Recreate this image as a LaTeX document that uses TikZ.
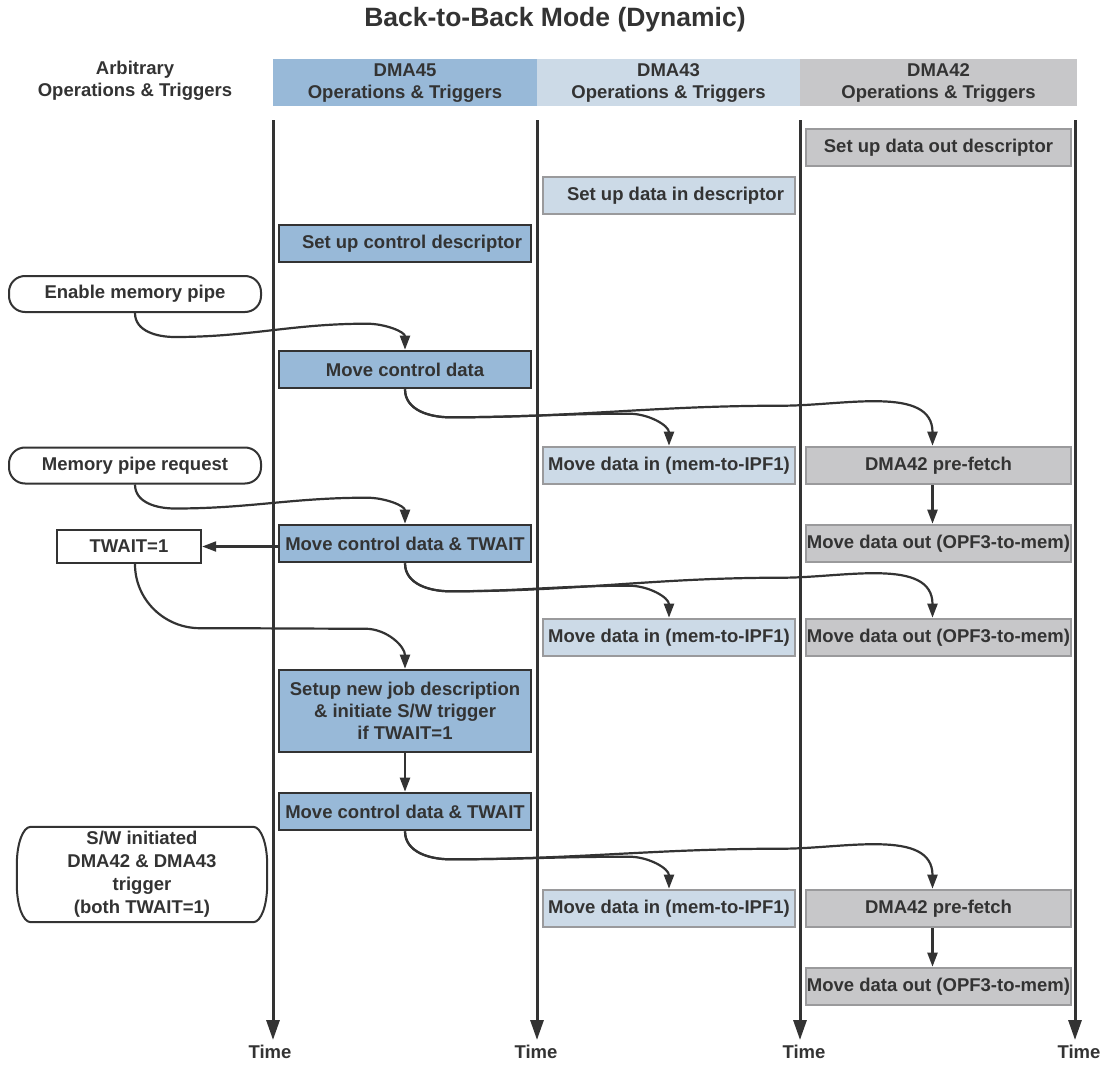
\documentclass[tikz,border=0pt]{standalone}
\usepackage{fontspec}
\setmainfont{Liberation Sans}
\usetikzlibrary{arrows.meta,calc}
\definecolor{txt}{HTML}{333333}
\definecolor{lanec}{HTML}{333333}
\definecolor{cA}{HTML}{98B9D8}
\definecolor{cB}{HTML}{CCDAE7}
\definecolor{cC}{HTML}{C7C7C9}
\definecolor{bdg}{HTML}{9A9A9C}
\tikzset{
  base/.style={font=\bfseries\fontsize{18.5}{22}\selectfont, text=txt, inner sep=0pt, align=center},
  ttl/.style={font=\bfseries\fontsize{26.5}{30}\selectfont, text=txt, inner sep=0pt},
  hdr/.style={base, minimum height=47pt},
  boxA/.style={base, draw=lanec, fill=cA, line width=2.6pt, minimum width=252pt, minimum height=37pt},
  boxB/.style={base, draw=bdg, fill=cB, line width=2.6pt, minimum width=252pt, minimum height=37pt},
  boxC/.style={base, draw=bdg, fill=cC, line width=2.6pt, minimum width=265pt, minimum height=37pt},
  pill/.style={base, draw=lanec, fill=white, line width=2pt, rounded corners=16pt, minimum width=252pt, minimum height=36pt},
  plainbox/.style={base, draw=lanec, fill=white, line width=2.4pt, minimum width=144pt, minimum height=33pt},
  laneline/.style={draw=lanec, line width=3pt, -{Triangle[length=20pt,width=13pt]}},
  conn/.style={draw=lanec, line width=2.2pt, -{Triangle[length=14pt,width=10pt]}},
  swline/.style={draw=lanec, line width=2pt}
}
\begin{document}
\begin{tikzpicture}[x=1pt,y=1pt]
\useasboundingbox (0,0) rectangle (1104,-1065);
\fill[white] (0,0) rectangle (1104,-1065);

% title
\node[ttl] (title) at (555,-20) {Back-to-Back Mode (Dynamic)};

% headers
\node[hdr] (h0) at (135,-81) {Arbitrary\\Operations \& Triggers};
\node[hdr, fill=cA, minimum width=264pt] (h45) at (405,-83) {DMA45\\Operations \& Triggers};
\node[hdr, fill=cB, minimum width=263pt] (h43) at (668.5,-83) {DMA43\\Operations \& Triggers};
\node[hdr, fill=cC, minimum width=277pt] (h42) at (938.5,-83) {DMA42\\Operations \& Triggers};

% lanes
\coordinate (l1t) at (273,-120); \coordinate (l1b) at (273,-1040);
\coordinate (l2t) at (537,-120); \coordinate (l2b) at (537,-1040);
\coordinate (l3t) at (800,-120); \coordinate (l3b) at (800,-1040);
\coordinate (l4t) at (1075,-120); \coordinate (l4b) at (1075,-1040);
\draw[laneline] (l1t) -- (l1b);
\draw[laneline] (l2t) -- (l2b);
\draw[laneline] (l3t) -- (l3b);
\draw[laneline] (l4t) -- (l4b);
\node[base] (t1) at (270,-1052) {Time};
\node[base] (t2) at (536,-1052) {Time};
\node[base] (t3) at (804,-1052) {Time};
\node[base] (t4) at (1079,-1052) {Time};

% boxes
\node[boxC] (s42) at (938.5,-147.5) {Set up data out descriptor};
\node[boxB] (s43) at (669,-195.5) {\hspace*{13pt}Set up data in descriptor};
\node[boxA] (s45) at (405,-243.5) {\hspace*{14pt}Set up control descriptor};
\node[pill] (ena) at (135,-294) {Enable memory pipe};
\node[boxA] (mcd) at (405,-369.5) {Move control data};
\node[pill] (mpr) at (135,-465.5) {Memory pipe request};
\node[boxB] (mdi1) at (669,-465.5) {Move data in (mem-to-IPF1)};
\node[boxC] (pf1) at (938.5,-465.5) {DMA42 pre-fetch};
\node[boxA] (mct1) at (405,-543.5) {Move control data \& TWAIT};
\node[plainbox] (tw) at (129,-546.5) {TWAIT=1};
\node[boxC] (mdo1) at (938.5,-543.5) {Move data out (OPF3-to-mem)};
\node[boxB] (mdi2) at (669,-637.5) {Move data in (mem-to-IPF1)};
\node[boxC] (mdo2) at (938.5,-637.5) {Move data out (OPF3-to-mem)};
\node[boxA, minimum height=82pt] (snj) at (405,-711) {Setup new job description\\\& initiate S/W trigger\\if TWAIT=1};
\node[boxA] (mct2) at (405,-811.5) {Move control data \& TWAIT};
\node[base, minimum width=250pt, minimum height=95pt, font=\bfseries\fontsize{18.5}{23}\selectfont] (sw) at (142,-874.5) {S/W initiated\\DMA42 \& DMA43\\trigger\\(both TWAIT=1)};
\node[boxB] (mdi3) at (669,-908.5) {Move data in (mem-to-IPF1)};
\node[boxC] (pf2) at (938.5,-908.5) {DMA42 pre-fetch};
\node[boxC] (mdo3) at (938.5,-986.5) {Move data out (OPF3-to-mem)};

% S/W initiated outline
\draw[swline] ($(sw.north west)+(14,0)$) -- ($(sw.north east)+(-14,0)$)
  .. controls ($(sw.north east)+(-6,0)$) and ($(sw.north east)+(0,-17)$) .. ($(sw.north east)+(0,-38)$)
  -- ($(sw.south east)+(0,38)$)
  .. controls ($(sw.south east)+(0,17)$) and ($(sw.south east)+(-6,0)$) .. ($(sw.south east)+(-14,0)$)
  -- ($(sw.south west)+(14,0)$)
  .. controls ($(sw.south west)+(6,0)$) and ($(sw.south west)+(0,17)$) .. ($(sw.south west)+(0,38)$)
  -- ($(sw.north west)+(0,-38)$)
  .. controls ($(sw.north west)+(0,-17)$) and ($(sw.north west)+(6,0)$) .. ($(sw.north west)+(14,0)$) -- cycle;

% connectors from left column
\draw[conn] (ena.south) to[out=-90,in=180] ($(ena.south)+(40,-24)$) to[out=0,in=180] ($(mcd.north)+(-38,26)$) to[out=0,in=90] (mcd.north);
\draw[conn] (mpr.south) to[out=-90,in=180] ($(mpr.south)+(40,-24)$) to[out=0,in=180] ($(mct1.north)+(-38,26)$) to[out=0,in=90] (mct1.north);
\draw[conn] (mct1.west |- tw.east) -- (tw.east);
\draw[conn] ([xshift=6pt]tw.south) to[out=-90,in=180] ($([xshift=6pt]tw.south)+(65,-64)$) to[out=0,in=180] ($(snj.north)+(-40,40)$) to[out=0,in=90] (snj.north);
\draw[conn] (snj.south) -- (mct2.north);

% fan-out groups
\draw[conn] (mcd.south) to[out=-90,in=180] ($(mcd.south)+(45,-28)$) to[out=0,in=180] ($(mdi1.north)+(-40,32)$) to[out=0,in=90] (mdi1.north);
\draw[conn] (mcd.south) to[out=-90,in=180] ($(mcd.south)+(45,-28)$) to[out=0,in=180] ($([xshift=-6pt]pf1.north)+(-150,40)$) to[out=0,in=90] ([xshift=-6pt]pf1.north);
\draw[conn] (mct1.south) to[out=-90,in=180] ($(mct1.south)+(45,-28)$) to[out=0,in=180] ($(mdi2.north)+(-40,32)$) to[out=0,in=90] (mdi2.north);
\draw[conn] (mct1.south) to[out=-90,in=180] ($(mct1.south)+(45,-28)$) to[out=0,in=180] ($([xshift=-6pt]mdo2.north)+(-150,40)$) to[out=0,in=90] ([xshift=-6pt]mdo2.north);
\draw[conn] (mct2.south) to[out=-90,in=180] ($(mct2.south)+(45,-28)$) to[out=0,in=180] ($(mdi3.north)+(-40,32)$) to[out=0,in=90] (mdi3.north);
\draw[conn] (mct2.south) to[out=-90,in=180] ($(mct2.south)+(45,-28)$) to[out=0,in=180] ($([xshift=-6pt]pf2.north)+(-150,40)$) to[out=0,in=90] ([xshift=-6pt]pf2.north);

% DMA42 internal
\draw[conn] ([xshift=-6pt]pf1.south) -- ([xshift=-6pt]mdo1.north);
\draw[conn] ([xshift=-6pt]pf2.south) -- ([xshift=-6pt]mdo3.north);
\end{tikzpicture}
\end{document}
